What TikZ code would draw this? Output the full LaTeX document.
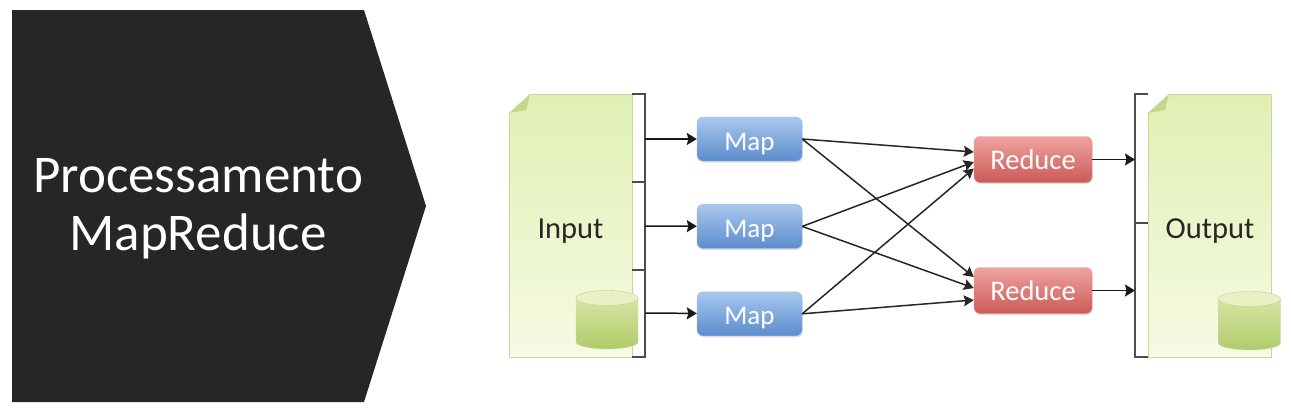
\documentclass[tikz,border=0pt]{standalone}
\usepackage{fontspec}
\setmainfont{Carlito}
\usetikzlibrary{positioning, arrows.meta, shadows}
\definecolor{darkbox}{HTML}{262626}
\definecolor{docTop}{HTML}{E0F0B2}
\definecolor{docBottom}{HTML}{F5FBE4}
\definecolor{mapTop}{HTML}{A9C8EE}
\definecolor{mapBottom}{HTML}{5B8CCB}
\definecolor{redTop}{HTML}{EFA3A0}
\definecolor{redBottom}{HTML}{CB5A56}
\definecolor{cylTop}{HTML}{D7E5A2}
\definecolor{cylBottom}{HTML}{B0CB6A}
\definecolor{cylLid}{HTML}{E7F1C4}
\definecolor{cylBorder}{HTML}{A5BE62}
\definecolor{foldColor}{HTML}{C5D68E}
\tikzset{
    doc/.style={
        rectangle, minimum width=123pt, minimum height=263pt, inner sep=0pt, draw=cylBorder!60, line width=0.8pt, top color=docTop, bottom color=docBottom, font=\fontsize{30.5}{36}\selectfont, text=black!85, text height=30pt, text depth=5pt
    },
    mapbox/.style={
        rectangle, rounded corners=6pt, minimum width=105pt, minimum height=44pt, inner sep=0pt, draw=mapBottom!60, top color=mapTop, bottom color=mapBottom, text=white, font=\fontsize{27}{30}\selectfont, text height=27pt, text depth=5pt, drop shadow={shadow xshift=0.8pt, shadow yshift=-1.5pt, opacity=0.25}
    },
    reducebox/.style={
        mapbox, minimum width=118pt, minimum height=46pt, draw=redBottom!60, top color=redTop, bottom color=redBottom, font=\fontsize{28.5}{30}\selectfont, text height=24pt
    },
    arrow/.style={
        line width=1.5pt, -{Stealth[length=10pt, width=12pt, inset=1.5pt]}, black!90
    },
    cross/.style={
        line width=1.5pt, -{Stealth[length=10pt, width=11pt, inset=1.5pt]}, black!85
    },
    bracket/.style={
        line width=1.1pt, black!70
    },
    drum/.pic={
        % Body
        \shade[top color=cylTop, bottom color=cylBottom, draw=cylBorder!50] (-31,8) -- (-31,52) arc[x radius=31, y radius=7, start angle=180, end angle=0] -- (31,8) -- cycle;
        % Lid
        \draw[fill=cylLid, draw=cylBorder!70] (0,8) ellipse[x radius=31, y radius=7.5];
    }
}
\begin{document}
\begin{tikzpicture}[x=1pt, y=-1pt]
    \useasboundingbox (0,0) rectangle (1291,416);

    % Title
    \fill[darkbox] (12,10) -- (364,10) -- (426,206) -- (364,402) -- (12,402) -- cycle;
    \node (title) [text=white, align=center, font=\fontsize{53}{58}\selectfont] at (198,209) {Processamento\\MapReduce};

    % Nodes
    \node (input) [doc] at (570.5,225.5) {Input};
    \node (output) [doc] at (1210,225.5) {Output};
    \node (mapa) [mapbox] at (749.5,139) {Map};
    \node (mapb) [mapbox, below=43pt of mapa] {Map};
    \node (mapc) [mapbox, below=43pt of mapb] {Map};
    \node (reda) [reducebox] at (1033,159.5) {Reduce};
    \node (redb) [reducebox] at (1033,290.5) {Reduce};

    % Bracket ends
    \coordinate (ina) at (645,139);
    \coordinate (inb) at (645,226);
    \coordinate (inc) at (645,313);
    \coordinate (outa) at (1135,159.5);
    \coordinate (outb) at (1135,290.5);

    % Corners and drums
    \fill[white] (507,92) -- (531,92) -- (531,93.5) -- (508.5,113.5) -- (507,113.5) -- cycle;
    \fill[foldColor] (509,113) -- (530,94) -- (526,110) -- cycle;
    \fill[white] (1146,92) -- (1170,92) -- (1170,93.5) -- (1147.5,113.5) -- (1146,113.5) -- cycle;
    \fill[foldColor] (1148,113) -- (1169,94) -- (1165,110) -- cycle;
    \pic at (607,290) {drum};
    \pic at (1249.5,291) {drum};

    % Brackets
    \draw[bracket] (632,94) -- (645,94) -- (645,357) -- (632,357);
    \draw[bracket] (632,182) -- (645,182);
    \draw[bracket] (632,270) -- (645,270);
    \draw[bracket] (1148,94) -- (1135,94) -- (1135,357) -- (1148,357);
    \draw[bracket] (1135,223) -- (1148,223);

    % Connections
    \draw [arrow] (ina) -- (mapa);
    \draw [arrow] (inb) -- (mapb);
    \draw [arrow] (inc) -- (mapc);
    \draw [arrow] (reda) -- (outa);
    \draw [arrow] (redb) -- (outb);
    \draw [cross] (mapa.east) -- ([yshift=7.5pt]reda.west);
    \draw [cross] (mapa.east) -- ([yshift=13.5pt]redb.west);
    \draw [cross] (mapb.east) -- ([yshift=-2.5pt]reda.west);
    \draw [cross] (mapb.east) -- ([yshift=2.5pt]redb.west);
    \draw [cross] (mapc.east) -- ([yshift=-9pt]reda.west);
    \draw [cross] (mapc.east) -- ([yshift=-9.5pt]redb.west);
\end{tikzpicture}
\end{document}
